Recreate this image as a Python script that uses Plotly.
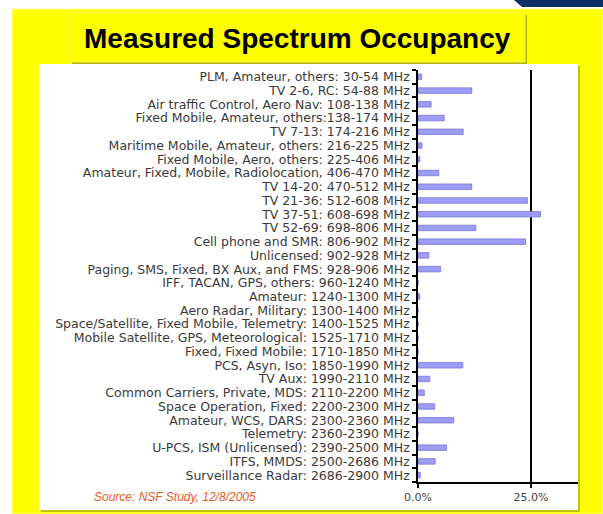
import plotly.graph_objects as go

categories = [
    "PLM, Amateur, others: 30-54 MHz",
    "TV 2-6, RC: 54-88 MHz",
    "Air traffic Control, Aero Nav: 108-138 MHz",
    "Fixed Mobile, Amateur, others:138-174 MHz",
    "TV 7-13: 174-216 MHz",
    "Maritime Mobile, Amateur, others: 216-225 MHz",
    "Fixed Mobile, Aero, others: 225-406 MHz",
    "Amateur, Fixed, Mobile, Radiolocation, 406-470 MHz",
    "TV 14-20: 470-512 MHz",
    "TV 21-36: 512-608 MHz",
    "TV 37-51: 608-698 MHz",
    "TV 52-69: 698-806 MHz",
    "Cell phone and SMR: 806-902 MHz",
    "Unlicensed: 902-928 MHz",
    "Paging, SMS, Fixed, BX Aux, and FMS: 928-906 MHz",
    "IFF, TACAN, GPS, others: 960-1240 MHz",
    "Amateur: 1240-1300 MHz",
    "Aero Radar, Military: 1300-1400 MHz",
    "Space/Satellite, Fixed Mobile, Telemetry: 1400-1525 MHz",
    "Mobile Satellite, GPS, Meteorological: 1525-1710 MHz",
    "Fixed, Fixed Mobile: 1710-1850 MHz",
    "PCS, Asyn, Iso: 1850-1990 MHz",
    "TV Aux: 1990-2110 MHz",
    "Common Carriers, Private, MDS: 2110-2200 MHz",
    "Space Operation, Fixed: 2200-2300 MHz",
    "Amateur, WCS, DARS: 2300-2360 MHz",
    "Telemetry: 2360-2390 MHz",
    "U-PCS, ISM (Unlicensed): 2390-2500 MHz",
    "ITFS, MMDS: 2500-2686 MHz",
    "Surveillance Radar: 2686-2900 MHz",
]

occupancy_pct = [
    0.8, 11.9, 2.9, 5.8, 10.0, 0.9, 0.4, 4.6, 11.9, 24.2,
    27.1, 12.8, 23.8, 2.4, 5.0, 0.0, 0.4, 0.0, 0.0, 0.0,
    0.0, 9.9, 2.6, 1.4, 3.7, 7.9, 0.0, 6.3, 3.8, 0.5,
]

x_tick_values = [0, 25]
x_tick_labels = ["0.0%", "25.0%"]

title_text = "Measured Spectrum Occupancy"
source_text = "Source: NSF Study, 12/8/2005"

W, H = 603, 514
L, R, T, B = 418, 578, 70, 482


def px(x):
    return (x - L) / (R - L)


def py(y):
    return (B - y) / (B - T)


def rect(x0, y0, x1, y1, fill, line=None, lw=0):
    return dict(type="rect", xref="paper", yref="paper",
                x0=px(x0), x1=px(x1), y0=py(y1), y1=py(y0),
                fillcolor=fill, line=dict(color=line or fill, width=lw),
                layer="below")


shapes = [
    rect(12, 9, 603, 514, "#ffff00", "#ffff99", 1),
    rect(72, 15, 527, 64, "#b5b500"),
    rect(70, 13, 525, 62, "#ffff00", "#f0f060", 1),
    rect(41, 66, 580, 512, "#c2c200"),
    rect(39, 64, 578, 510, "#ffffff"),
    dict(type="path", xref="paper", yref="paper",
         path="M {} {} L {} {} L {} {} L {} {} Z".format(
             px(514), py(0), px(603), py(0), px(603), py(7), px(522), py(7)),
         fillcolor="#0d2f68", line=dict(width=0), layer="below"),
]

fig = go.Figure()
fig.add_trace(go.Bar(
    y=categories, x=occupancy_pct, orientation="h", width=0.4,
    marker=dict(color="#9d9df7", line=dict(color="#7777d4", width=0.8)),
))

fig.update_layout(
    width=W, height=H,
    margin=dict(l=L, r=W - R, t=T, b=H - B, autoexpand=False),
    paper_bgcolor="#ffffff",
    plot_bgcolor="rgba(0,0,0,0)",
    showlegend=False,
    shapes=shapes,
    xaxis=dict(
        range=[0, 25 * (R - L) / 113.0],
        tickvals=x_tick_values, ticktext=x_tick_labels,
        ticks="outside", ticklen=4, tickcolor="#000", tickwidth=1.5,
        showgrid=True, gridcolor="#000", gridwidth=1.5,
        zeroline=False, showline=True, linecolor="#000", linewidth=1.5,
        tickfont=dict(family="DejaVu Sans", size=11, color="#444"),
        fixedrange=True,
    ),
    yaxis=dict(
        autorange="reversed", type="category",
        tickmode="array", tickvals=categories, ticktext=categories,
        ticks="outside", ticklen=4, tickcolor="#000", tickwidth=1.5,
        tickson="boundaries", ticklabelstandoff=4,
        showline=True, linecolor="#000", linewidth=1.5, showgrid=False,
        tickfont=dict(family="DejaVu Sans", size=12.5, color="#3a3a3a"),
        fixedrange=True,
    ),
    annotations=[
        dict(text="<b>" + title_text + "</b>", xref="paper", yref="paper",
             x=px(297.5), y=py(38), showarrow=False, xanchor="center", yanchor="middle",
             font=dict(family="Liberation Sans, Arial", size=28, color="#000")),
        dict(text="<i>" + source_text + "</i>", xref="paper", yref="paper",
             x=px(92), y=py(497), showarrow=False, xanchor="left", yanchor="middle",
             font=dict(family="Liberation Sans, Arial", size=12, color="#e65a1e")),
    ],
)

fig.write_html("out.html", config={"displayModeBar": False},
               post_script="document.body.style.margin='0';document.body.style.overflow='hidden';")
